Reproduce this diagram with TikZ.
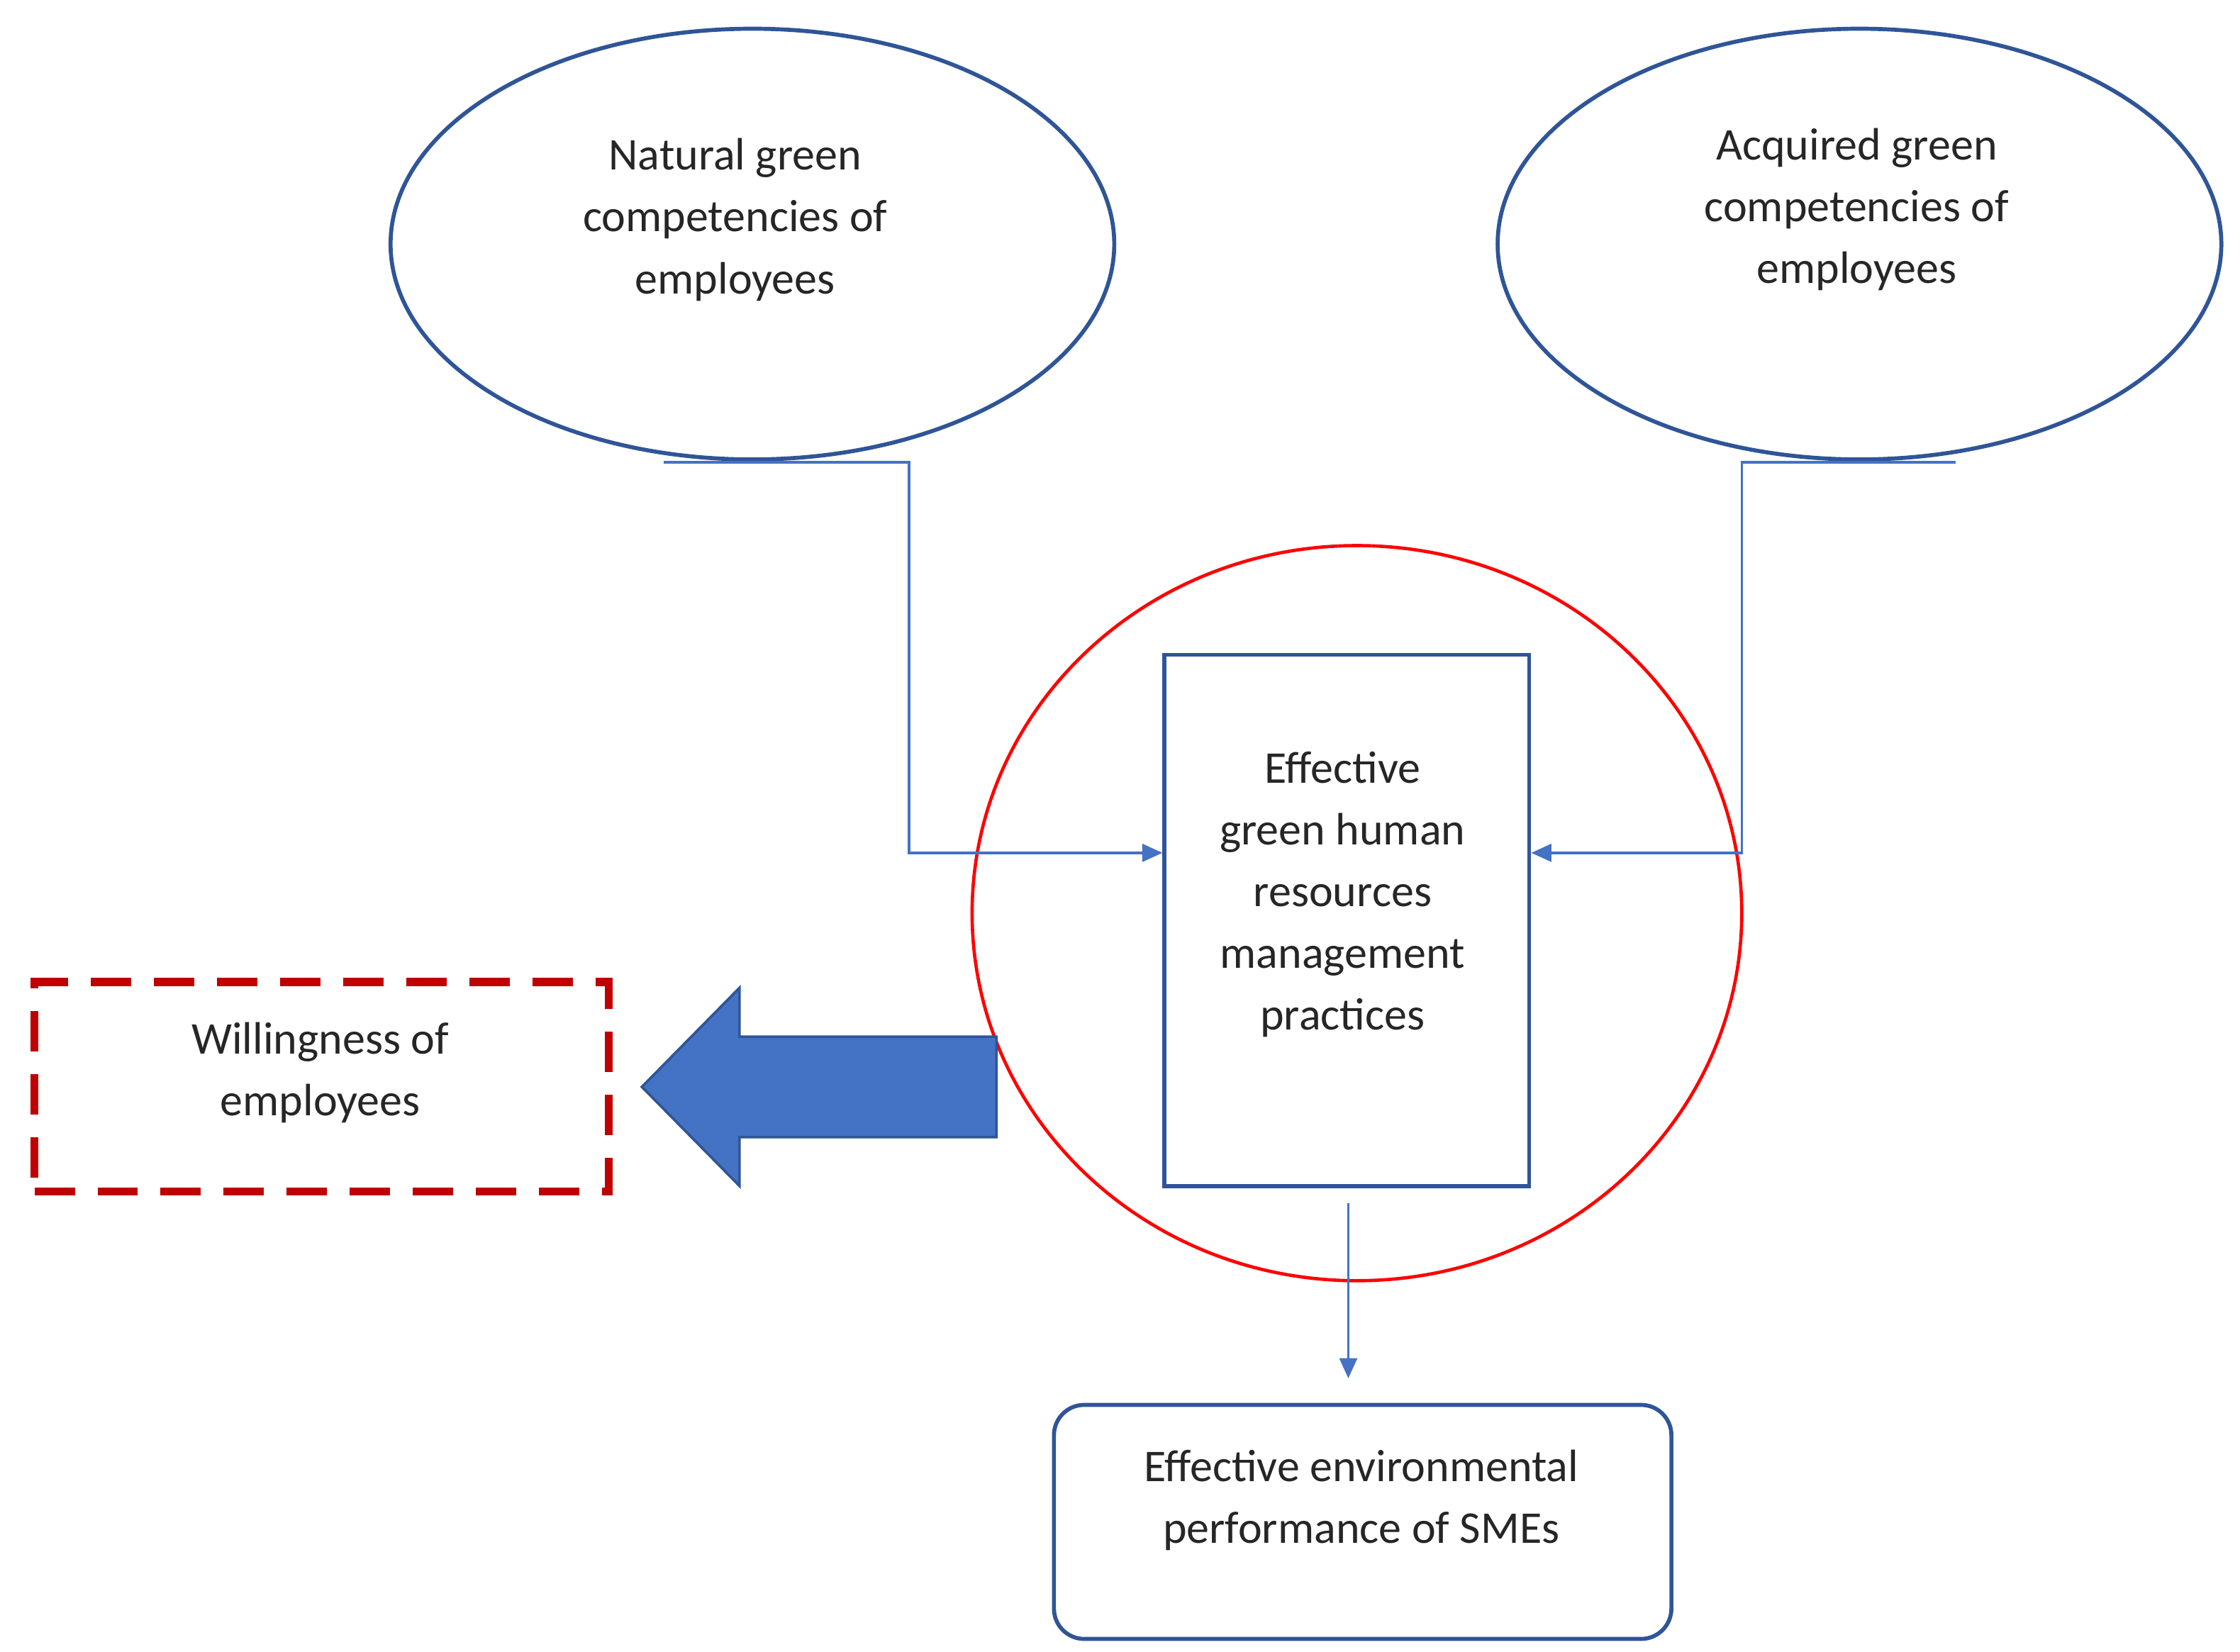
\documentclass[tikz,border=0pt]{standalone}
\usepackage{fontspec}
\setmainfont{Carlito}
\usetikzlibrary{arrows.meta,shapes.geometric}
\definecolor{dblue}{HTML}{2F5597}
\definecolor{lblue}{HTML}{4472C4}
\definecolor{dred}{HTML}{C00000}
\begin{document}
\begin{tikzpicture}[x=0.02cm,y=-0.02cm,
  txt/.style={align=center,font=\fontsize{18}{24.5}\selectfont,text=black!85},
  ell/.style={draw=dblue,line width=1.6pt},
  conn/.style={draw=lblue!80,line width=1pt},
  arr/.style={conn,-{Triangle[length=8pt,width=7pt]},draw=lblue}]
\useasboundingbox (0,0) rectangle (1560,1150.6);
\draw[ell] (524,170) ellipse [x radius=252,y radius=150];
\node[txt] (n1) at (512,153) {Natural green\\competencies of\\employees};
\draw[ell] (1295,170) ellipse [x radius=252,y radius=150];
\node[txt] (n2) at (1293,146) {Acquired green\\competencies of\\employees};
\draw[red,line width=1.3pt] (945,636) ellipse [x radius=268,y radius=256];
\node[draw=dblue,line width=1.6pt,minimum width=254*0.02cm,minimum height=370*0.02cm] (box) at (938,641) {};
\node[txt] at (935,623) {Effective\\green human\\resources\\management\\practices};
\coordinate (l0) at (462,322); \coordinate (l1) at (633,322); \coordinate (l2) at (633,594);
\coordinate (r0) at (1362,322); \coordinate (r1) at (1213,322); \coordinate (r2) at (1213,594);
\draw[arr] (l0) -- (l1) -- (l2) -- (box.west |- l2);
\draw[arr] (r0) -- (r1) -- (r2) -- (box.east |- r2);
\node[draw=dblue,line width=1.6pt,rounded corners=12pt,minimum width=430*0.02cm,minimum height=163*0.02cm] (perf) at (949,1060) {};
\node[txt] at (948,1045) {Effective environmental\\performance of SMEs};
\coordinate (d0) at (939,838);
\draw[arr] (d0) -- (939,960);
\node[draw=dred,line width=3.2pt,dash pattern=on 16pt off 9pt,minimum width=400*0.02cm,minimum height=146*0.02cm] (will) at (224,757) {};
\node[txt] at (223,747) {Willingness of\\employees};
\draw[fill=lblue,draw=dblue,line width=1pt] (694,722) -- (515,722) -- (515,688) -- (447,757) -- (515,826) -- (515,792) -- (694,792) -- cycle;
\end{tikzpicture}
\end{document}
